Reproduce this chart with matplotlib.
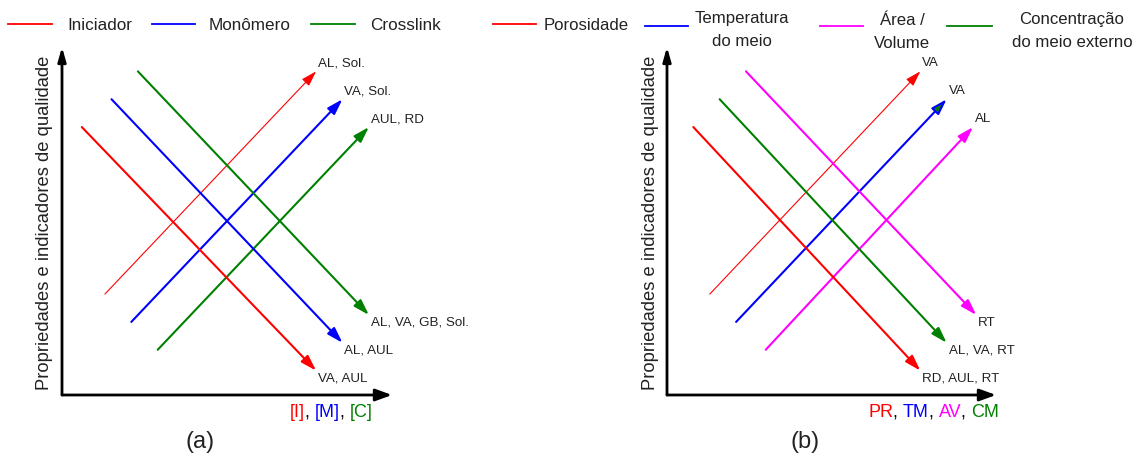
import matplotlib
matplotlib.use('Agg')
import matplotlib.pyplot as plt
from matplotlib.lines import Line2D
from matplotlib.transforms import offset_copy

plt.rcParams['font.family'] = ['Liberation Sans', 'DejaVu Sans']

# painel (a): efeito de iniciador, monomero e crosslink
a_names = ['Iniciador', 'Monômero', 'Crosslink']
a_colors = ['red', 'blue', 'green']
a_rise_x0 = [13, 21, 29]
a_rise_y0 = [29, 21, 13]
a_rise_x1 = [77, 85, 93]
a_rise_y1 = [93, 85, 77]
a_rise_labels = ['AL, Sol.', 'VA, Sol.', 'AUL, RD']
a_fall_x0 = [6, 15, 23]
a_fall_y0 = [77, 85, 93]
a_fall_x1 = [77, 85, 93]
a_fall_y1 = [7, 15, 23]
a_fall_labels = ['VA, AUL', 'AL, AUL', 'AL, VA, GB, Sol.']
a_xlabel = ['[I]', ', ', '[M]', ', ', '[C]']
a_xlabel_colors = ['red', 'black', 'blue', 'black', 'green']

# painel (b): efeito do meio
b_names = ['Porosidade', 'Temperatura\ndo meio', 'Área /\nVolume', 'Concentração\ndo meio externo']
b_colors = ['red', 'blue', 'magenta', 'green']
b_rise_colors = ['red', 'blue', 'magenta']
b_rise_heads = ['red', 'green', 'magenta']
b_rise_x0 = [13, 21, 30]
b_rise_y0 = [29, 21, 13]
b_rise_x1 = [77, 85, 93]
b_rise_y1 = [93, 85, 77]
b_rise_labels = ['VA', 'VA', 'AL']
b_fall_colors = ['red', 'green', 'magenta']
b_fall_x0 = [8, 16, 24]
b_fall_y0 = [77, 85, 93]
b_fall_x1 = [77, 85, 94]
b_fall_y1 = [7, 15, 23]
b_fall_labels = ['RD, AUL, RT', 'AL, VA, RT', 'RT']
b_xlabel = ['PR', ', ', 'TM', ', ', 'AV', ', ', 'CM']
b_xlabel_colors = ['red', 'black', 'blue', 'black', 'magenta', 'black', 'green']

W, H = 1138, 460
fig = plt.figure(figsize=(W / 100, H / 100), dpi=100)
ax_a = fig.add_axes([62 / W, (H - 396) / H, 330 / W, 348 / H])
ax_b = fig.add_axes([667 / W, (H - 396) / H, 329 / W, 348 / H])

TXT = '#222222'
HEAD = '-|>,head_length=0.67,head_width=0.21'


def arrow(ax, x0, y0, x1, y1, ec, fc, lw):
    ax.annotate('', xy=(x1, y1), xytext=(x0, y0),
                arrowprops=dict(arrowstyle=HEAD, edgecolor=ec, facecolor=fc,
                                lw=lw, mutation_scale=14, shrinkA=0, shrinkB=0))


def setup(ax, ylabel):
    ax.set_xlim(0, 100)
    ax.set_ylim(0, 100)
    ax.axis('off')
    ax.annotate('', xy=(100, 0), xytext=(0, 0), annotation_clip=False,
                arrowprops=dict(arrowstyle='-|>,head_length=0.55,head_width=0.2', color='black',
                                lw=2, mutation_scale=18, shrinkA=0, shrinkB=0))
    ax.annotate('', xy=(0, 100), xytext=(0, 0), annotation_clip=False,
                arrowprops=dict(arrowstyle='-|>,head_length=0.6,head_width=0.17', color='black',
                                lw=2, mutation_scale=14, shrinkA=0, shrinkB=0))
    ax.text(-17 / 330, 0.497, ylabel, transform=ax.transAxes, rotation=90,
            ha='center', va='center', fontsize=13.2, color=TXT)


def colored_label(ax, pieces, colors, x, y):
    # escreve pedacos coloridos um depois do outro
    renderer = fig.canvas.get_renderer()
    dx = 0
    for p, c in zip(pieces, colors):
        tr = offset_copy(ax.transAxes, fig=fig, x=dx, y=0, units='dots')
        t = ax.text(x, y, p, transform=tr, color=c, fontsize=13, ha='left', va='center')
        dx += t.get_window_extent(renderer).width


def draw_panel(ax, rise, fall, rise_labels, fall_labels):
    for (x0, y0, x1, y1, ec, fc, lw), lab in zip(rise, rise_labels):
        arrow(ax, x0, y0, x1, y1, ec, fc, lw)
        ax.annotate(lab, xy=(x1, y1), xytext=(2, 9), textcoords='offset pixels',
                    ha='left', va='center', fontsize=9.6, color=TXT)
    for (x0, y0, x1, y1, c), lab in zip(fall, fall_labels):
        arrow(ax, x0, y0, x1, y1, c, c, 1.5)
        ax.annotate(lab, xy=(x1, y1), xytext=(2, -7), textcoords='offset pixels',
                    ha='left', va='center', fontsize=9.6, color=TXT)


ylabel = 'Propriedades e indicadores de qualidade'
setup(ax_a, ylabel)
setup(ax_b, ylabel)

rise_a = [(a_rise_x0[i], a_rise_y0[i], a_rise_x1[i], a_rise_y1[i], a_colors[i], a_colors[i],
           0.8 if i == 0 else 1.5) for i in range(3)]
fall_a = [(a_fall_x0[i], a_fall_y0[i], a_fall_x1[i], a_fall_y1[i], a_colors[i]) for i in range(3)]
draw_panel(ax_a, rise_a, fall_a, a_rise_labels, a_fall_labels)

rise_b = [(b_rise_x0[i], b_rise_y0[i], b_rise_x1[i], b_rise_y1[i], b_rise_colors[i], b_rise_heads[i],
           0.8 if i == 0 else 1.5) for i in range(3)]
fall_b = [(b_fall_x0[i], b_fall_y0[i], b_fall_x1[i], b_fall_y1[i], b_fall_colors[i]) for i in range(3)]
draw_panel(ax_b, rise_b, fall_b, b_rise_labels, b_fall_labels)

colored_label(ax_a, a_xlabel, a_xlabel_colors, (290 - 62) / 330, -17 / 348)
colored_label(ax_b, b_xlabel, b_xlabel_colors, (868 - 667) / 329, -17 / 348)

fig.text(200 / W, 1 - 442 / H, '(a)', ha='center', va='center', fontsize=17, color=TXT)
fig.text(805 / W, 1 - 442 / H, '(b)', ha='center', va='center', fontsize=17, color=TXT)

# legendas feitas a mao (pixels da figura)
leg_a = [(8, 52, 67), (152, 195, 209), (311, 355, 370)]
for (l0, l1, tx), name, c in zip(leg_a, a_names, a_colors):
    fig.add_artist(Line2D([l0 / W, l1 / W], [1 - 25 / H] * 2, color=c, lw=1.3,
                          transform=fig.transFigure))
    fig.text(tx / W, 1 - 25 / H, name, ha='left', va='center', fontsize=12.3, color=TXT)

leg_b = [(493, 536, 544, 'left', 25), (645, 688, 742, 'center', 30),
         (820, 863, 902, 'center', 32), (947, 992, 1072, 'center', 31)]
for (l0, l1, tx, ha, ty), name, c in zip(leg_b, b_names, b_colors):
    ly = 25 if ha == 'left' else 27
    fig.add_artist(Line2D([l0 / W, l1 / W], [1 - ly / H] * 2, color=c, lw=1.3,
                          transform=fig.transFigure))
    fig.text(tx / W, 1 - ty / H, name, ha=ha, va='center', ma='center',
             fontsize=12.1, color=TXT, linespacing=1.6)

fig.savefig('out.png', dpi=100)
